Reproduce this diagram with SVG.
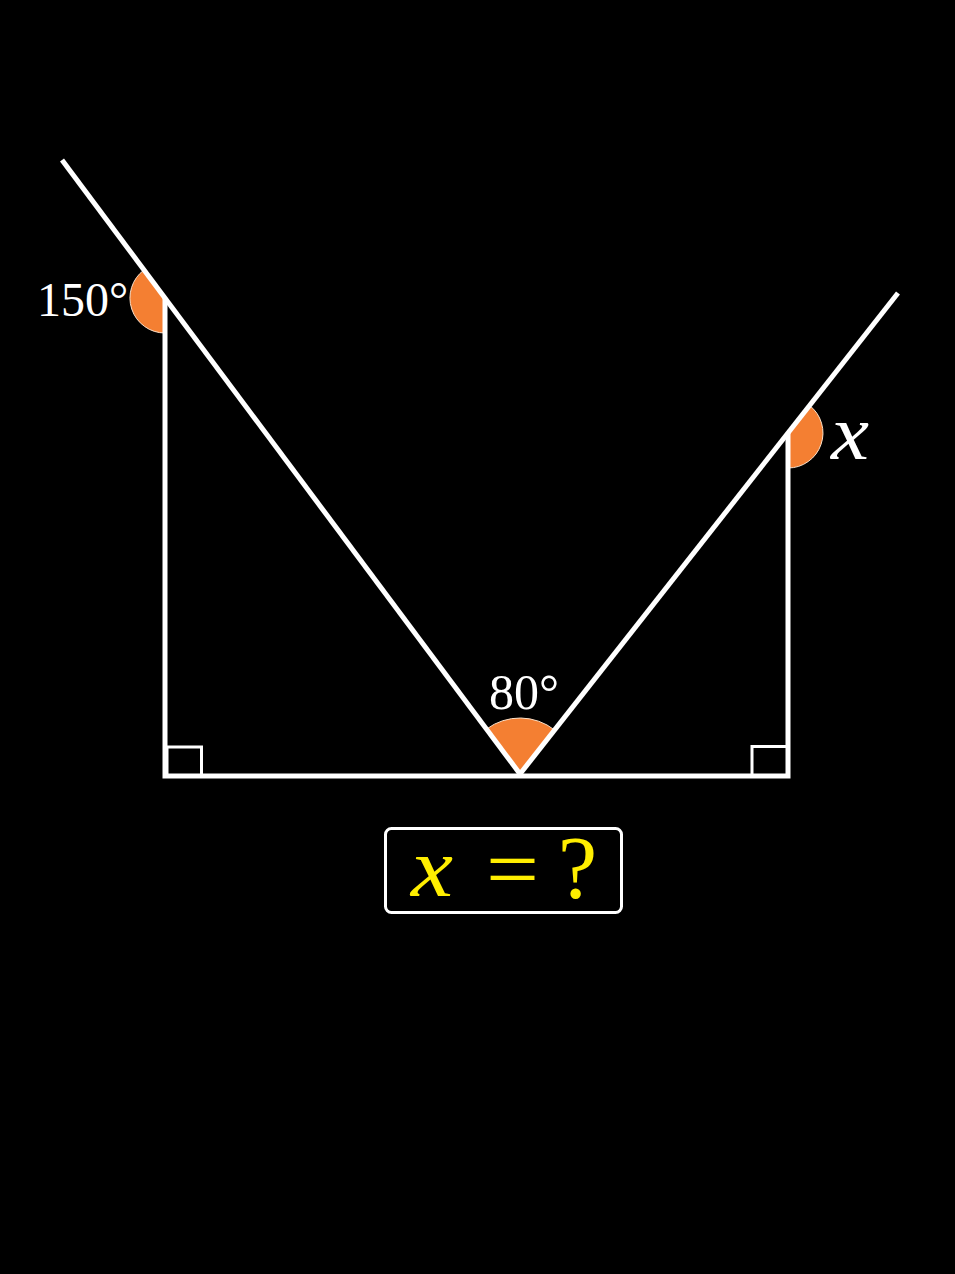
<svg xmlns="http://www.w3.org/2000/svg" width="955" height="1274" viewBox="0 0 955 1274">
<style>
.ang{fill:#f47f32;stroke:#fbe0c8;stroke-width:1}
.ln{stroke:#ffffff;stroke-width:5;fill:none;stroke-linecap:butt;stroke-linejoin:miter}
.sq{stroke:#ffffff;stroke-width:3;fill:none}
.lbl{fill:#ffffff;font-family:"Liberation Serif","DejaVu Serif",serif}
.ans{fill:#ffee00;font-family:"Liberation Serif","DejaVu Serif",serif}
</style>
<rect width="955" height="1274" fill="#000000"/>
<g id="angles">
<path class="ang" d="M165,298 L165,333 A35,35 0 0 1 144.1,269.9 Z"/>
<path class="ang" d="M788,433 L809.6,405.5 A35,35 0 0 1 788,468 Z"/>
<path class="ang" d="M520,774 L486.5,729.1 A56,56 0 0 1 554.6,730 Z"/>
</g>
<g id="connectors">
<line class="ln" x1="62" y1="160" x2="520" y2="774"/>
<line class="ln" x1="520" y1="774" x2="898" y2="293"/>
<polyline class="ln" points="165,298 165,776 788,776 788,433"/>
<polyline class="sq" points="167,776 167,747 201.5,747 201.5,776"/>
<polyline class="sq" points="786,746.5 752,746.5 752,776"/>
</g>
<g id="labels">
<text class="lbl" x="37" y="316" font-size="48">150°</text>
<text class="lbl" x="831" y="459" font-size="78" font-style="italic" textLength="38" lengthAdjust="spacingAndGlyphs">x</text>
<text class="lbl" x="489" y="709" font-size="50">80°</text>
</g>
<g id="answer">
<rect x="385.5" y="828.5" width="236" height="84" rx="6" fill="#000000" stroke="#ffffff" stroke-width="3"/>
<text class="ans" x="411" y="896" font-size="84" font-style="italic" textLength="42" lengthAdjust="spacingAndGlyphs">x</text>
<text class="ans" x="486" y="898" font-size="84" textLength="53" lengthAdjust="spacingAndGlyphs">=</text>
<text class="ans" x="558" y="897" font-size="88">?</text>
</g>
</svg>
